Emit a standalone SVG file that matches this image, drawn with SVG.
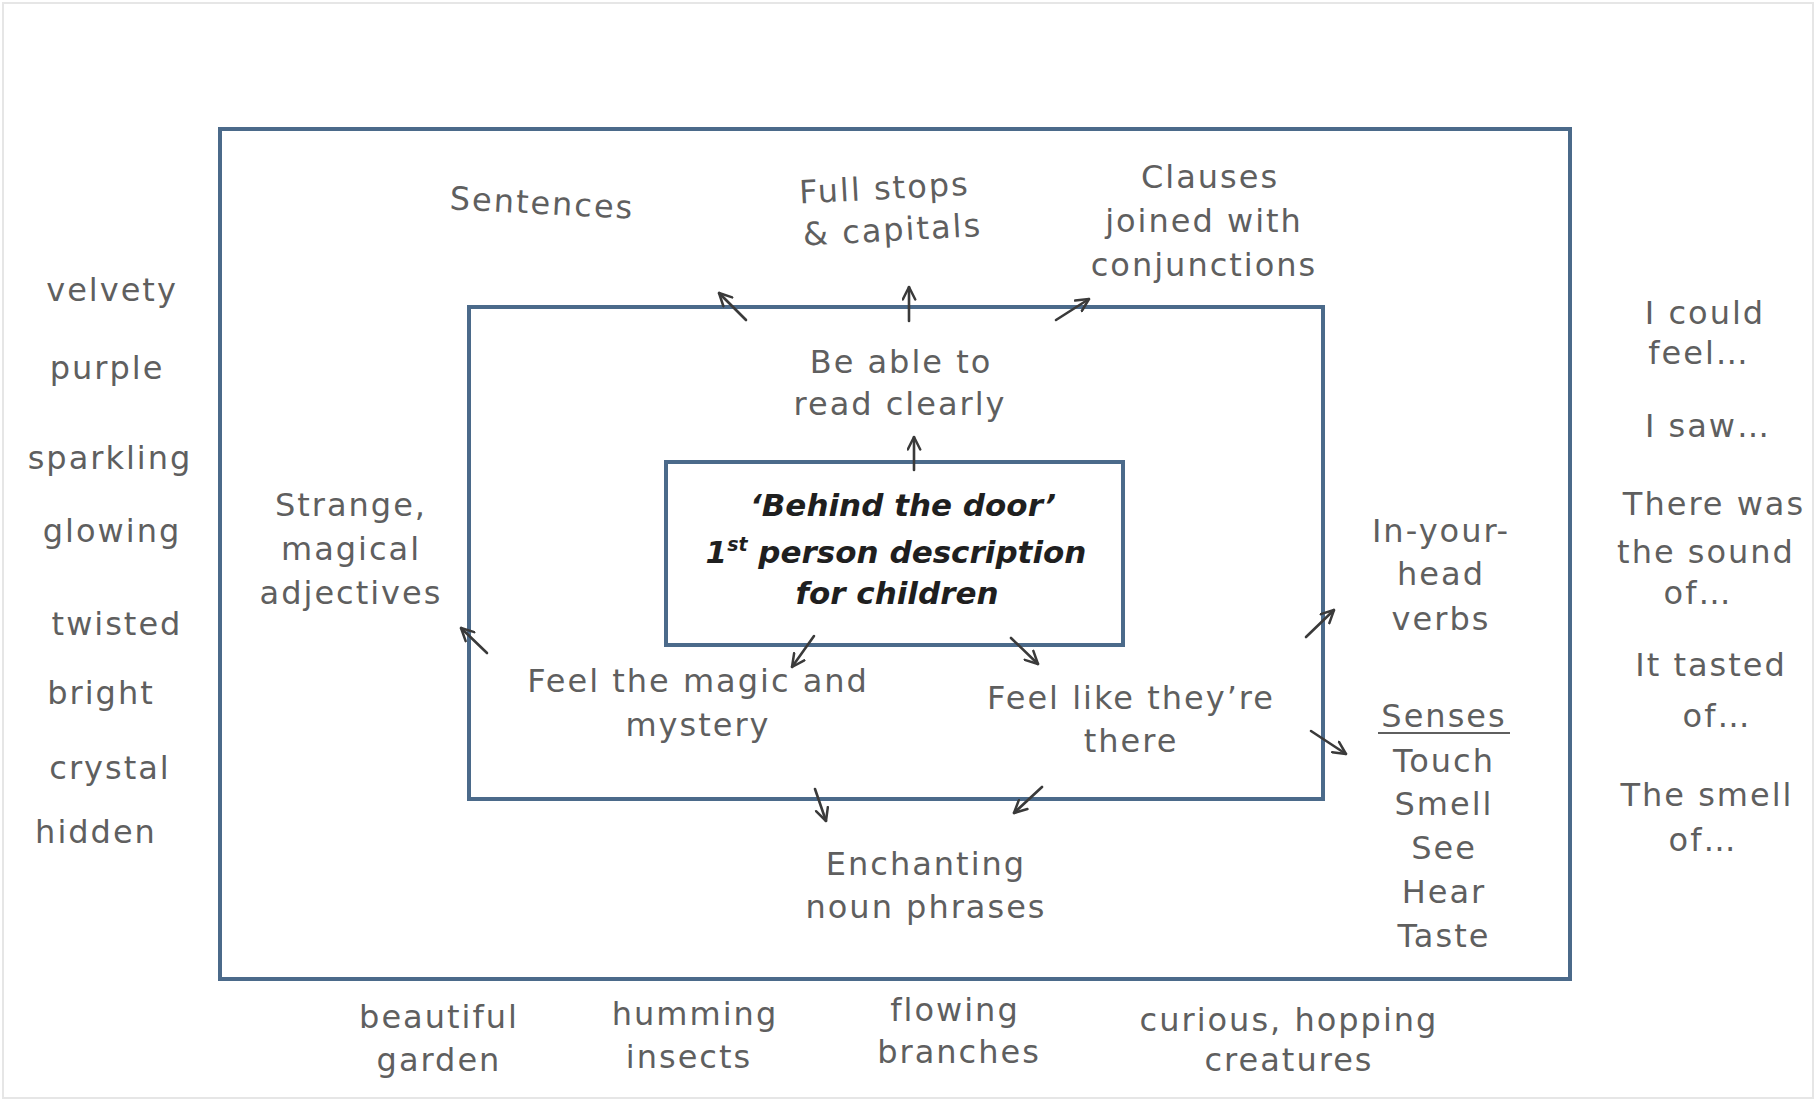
<svg xmlns="http://www.w3.org/2000/svg" width="1816" height="1101" viewBox="0 0 1816 1101">
<style>
.bg{fill:#ffffff}
.frame{fill:none;stroke:#e6e6e6;stroke-width:2}
.box{fill:none;stroke:#4b6a8a;stroke-width:4}
.t{font-family:"DejaVu Sans","Liberation Sans",sans-serif;font-size:32px;fill:#5f5f5f;text-anchor:middle;letter-spacing:2px}
.c{font-family:"DejaVu Sans","Liberation Sans",sans-serif;font-size:31px;font-weight:bold;font-style:italic;fill:#1f1f1f;text-anchor:middle}
.arr{fill:none;stroke:#3a3a3a;stroke-width:2.6;stroke-linecap:round;marker-end:url(#ah)}
.ul{stroke:#5f5f5f;stroke-width:2}
</style>
<defs>
<marker id="ah" viewBox="0 0 12 12" refX="11" refY="6" markerWidth="15" markerHeight="15" markerUnits="userSpaceOnUse" orient="auto">
<path d="M1,1 L11,6 L1,11" fill="none" stroke="#3a3a3a" stroke-width="2" stroke-linecap="round" stroke-linejoin="round"/>
</marker>
</defs>
<rect class="bg" x="0" y="0" width="1816" height="1101"/>
<rect class="frame" x="3" y="3" width="1810" height="1095"/>

<g id="outer-box"><rect class="box" x="220" y="129" width="1350" height="850"/></g>
<g id="middle-box"><rect class="box" x="469" y="307" width="854" height="492"/></g>

<g id="centre">
<rect class="box" x="666" y="462" width="457" height="183"/>
<text class="c" x="903" y="516">‘Behind the door’</text>
<text class="c" x="896" y="563">1<tspan font-size="19" dy="-12">st</tspan><tspan dy="12"> person description</tspan></text>
<text class="c" x="897" y="604">for children</text>
</g>

<g id="sentences"><text class="t" x="542" y="214" transform="rotate(3 542 204)">Sentences</text></g>
<g id="full-stops" transform="rotate(-3 888 220)">
<text class="t" x="886" y="199">Full stops</text>
<text class="t" x="892" y="241">&amp; capitals</text>
</g>
<g id="clauses">
<text class="t" x="1210" y="188">Clauses</text>
<text class="t" x="1204" y="232">joined with</text>
<text class="t" x="1204" y="276">conjunctions</text>
</g>
<g id="read-clearly">
<text class="t" x="901" y="373">Be able to</text>
<text class="t" x="900" y="415">read clearly</text>
</g>
<g id="adjectives">
<text class="t" x="351" y="516">Strange,</text>
<text class="t" x="351" y="560">magical</text>
<text class="t" x="351" y="604">adjectives</text>
</g>
<g id="magic">
<text class="t" x="698" y="692">Feel the magic and</text>
<text class="t" x="698" y="736">mystery</text>
</g>
<g id="there">
<text class="t" x="1131" y="709">Feel like they’re</text>
<text class="t" x="1131" y="752">there</text>
</g>
<g id="verbs">
<text class="t" x="1441" y="542">In-your-</text>
<text class="t" x="1441" y="585">head</text>
<text class="t" x="1441" y="630">verbs</text>
</g>
<g id="senses">
<text class="t" x="1444" y="727">Senses</text>
<line class="ul" x1="1378" y1="733" x2="1510" y2="733"/>
<text class="t" x="1444" y="772">Touch</text>
<text class="t" x="1444" y="815">Smell</text>
<text class="t" x="1444" y="859">See</text>
<text class="t" x="1444" y="903">Hear</text>
<text class="t" x="1444" y="947">Taste</text>
</g>
<g id="noun-phrases">
<text class="t" x="926" y="875">Enchanting</text>
<text class="t" x="926" y="918">noun phrases</text>
</g>

<g id="adjective-list">
<text class="t" x="112" y="301">velvety</text>
<text class="t" x="107" y="379">purple</text>
<text class="t" x="110" y="469">sparkling</text>
<text class="t" x="112" y="542">glowing</text>
<text class="t" x="117" y="635">twisted</text>
<text class="t" x="101" y="704">bright</text>
<text class="t" x="110" y="779">crystal</text>
<text class="t" x="96" y="843">hidden</text>
</g>

<g id="starters">
<text class="t" x="1705" y="324">I could</text>
<text class="t" x="1699" y="364">feel…</text>
<text class="t" x="1708" y="437">I saw…</text>
<text class="t" x="1714" y="515">There was</text>
<text class="t" x="1706" y="563">the sound</text>
<text class="t" x="1698" y="604">of…</text>
<text class="t" x="1711" y="676">It tasted</text>
<text class="t" x="1717" y="727">of…</text>
<text class="t" x="1707" y="806">The smell</text>
<text class="t" x="1703" y="851">of…</text>
</g>

<g id="noun-list">
<text class="t" x="439" y="1028">beautiful</text>
<text class="t" x="439" y="1071">garden</text>
<text class="t" x="695" y="1025">humming</text>
<text class="t" x="689" y="1068">insects</text>
<text class="t" x="955" y="1021">flowing</text>
<text class="t" x="959" y="1063">branches</text>
<text class="t" x="1289" y="1031">curious, hopping</text>
<text class="t" x="1289" y="1071">creatures</text>
</g>

<g id="connectors">
<path class="arr" d="M746,320 L719,293"/>
<path class="arr" d="M909,321 L909,287"/>
<path class="arr" d="M1056,320 L1089,299"/>
<path class="arr" d="M914,470 L914,437"/>
<path class="arr" d="M487,653 L461,628"/>
<path class="arr" d="M814,636 L792,667"/>
<path class="arr" d="M1011,638 L1038,664"/>
<path class="arr" d="M1306,637 L1334,610"/>
<path class="arr" d="M1311,731 L1346,754"/>
<path class="arr" d="M815,789 L826,821"/>
<path class="arr" d="M1042,787 L1014,813"/>
</g>
</svg>
